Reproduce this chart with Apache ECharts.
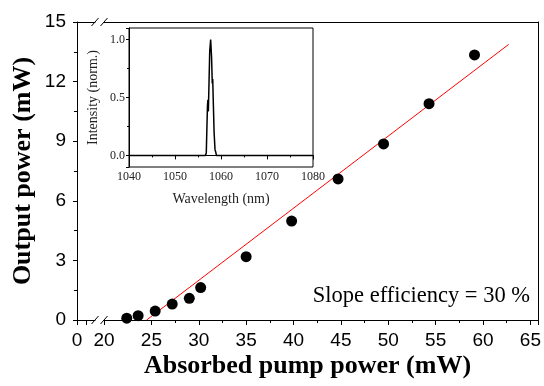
<!DOCTYPE html>
<html><head><meta charset="utf-8">
<script src="https://cdn.jsdelivr.net/npm/echarts@6/dist/echarts.min.js"></script>
<style>html,body{margin:0;padding:0;background:#fff}#c{width:544px;height:386px}</style>
</head><body><div id="c"></div>
<script>
// Main chart data
const pumpPower = [22.4, 23.6, 25.4, 27.2, 29.0, 30.2, 35.0, 39.8, 44.7, 49.5, 54.3, 59.1];
const outputPower = [0.09, 0.22, 0.45, 0.8, 1.09, 1.63, 3.19, 4.98, 7.1, 8.86, 10.89, 13.34];
const fitX = [24.5, 62.7];
const fitY = [0, 13.87];
// Inset spectrum
const wavelength = [1040, 1056.6, 1056.8, 1056.95, 1057.05, 1057.15, 1057.25, 1057.35, 1057.55, 1057.75, 1057.95, 1058.1, 1058.2, 1058.3, 1058.5, 1058.7, 1058.85, 1059, 1080];
const intensity = [0, 0, 0.02, 0.03, 0.42, 0.48, 0.38, 0.55, 0.9, 1.0, 0.85, 0.62, 0.66, 0.5, 0.2, 0.05, 0.03, 0, 0];
// Axis ranges / ticks
const leftSegment = [0, 1.9];      // before the axis break
const rightSegment = [20, 65.8];   // after the axis break
const leftTicks = [0, 1];
const leftLabels = [0];
const slopeText = 'Slope efficiency = 30 %';
const xName = 'Absorbed pump power (mW)';
const yName = 'Output power (mW)';
const insetXName = 'Wavelength (nm)';
const insetYName = 'Intensity (norm.)';

const serif = '"Liberation Serif", "Times New Roman", serif';
const sans = '"Liberation Sans", Arial, sans-serif';
const black = '#000';
const lineOnly = {show: true, onZero: false, lineStyle: {color: black, width: 1}};

const chart = echarts.init(document.getElementById('c'));
const option = {
  animation: false,
  backgroundColor: '#fff',
  grid: [
    {left: 77, top: 22, width: 18, bottom: 66},
    {left: 104, top: 22, right: 4, bottom: 66},
    {left: 129, top: 28, width: 184, height: 139, show: true, borderColor: black, borderWidth: 1, z: 5}
  ],
  xAxis: [
    { // 0: left segment bottom
      type: 'value', gridIndex: 0, min: leftSegment[0], max: leftSegment[1], position: 'bottom',
      axisLine: lineOnly,
      axisTick: {show: true, length: 5, lineStyle: {color: black}, customValues: leftTicks},
      splitLine: {show: false},
      axisLabel: {fontSize: 19, fontFamily: sans, color: black, margin: 11, customValues: leftLabels}
    },
    { // 1: right segment bottom
      type: 'value', gridIndex: 1, min: rightSegment[0], max: rightSegment[1], interval: 5, position: 'bottom',
      axisLine: lineOnly,
      axisTick: {length: 5, lineStyle: {color: black}},
      minorTick: {show: true, splitNumber: 2, length: 3, lineStyle: {color: black}},
      splitLine: {show: false},
      axisLabel: {fontSize: 19, fontFamily: sans, color: black, margin: 11, showMaxLabel: false}
    },
    { // 2: left segment top
      type: 'value', gridIndex: 0, min: leftSegment[0], max: leftSegment[1], position: 'top',
      axisLine: lineOnly, axisTick: {show: false}, axisLabel: {show: false}, splitLine: {show: false}
    },
    { // 3: right segment top
      type: 'value', gridIndex: 1, min: rightSegment[0], max: rightSegment[1], position: 'top',
      axisLine: lineOnly, axisTick: {show: false}, axisLabel: {show: false}, splitLine: {show: false}
    },
    { // 4: inset
      type: 'value', gridIndex: 2, min: 1040, max: 1080, interval: 10,
      axisLine: {lineStyle: {color: black, width: 1}},
      axisTick: {length: 4, lineStyle: {color: black}},
      minorTick: {show: true, splitNumber: 2, length: 2, lineStyle: {color: black}},
      splitLine: {show: false},
      axisLabel: {fontSize: 12, fontFamily: serif, color: '#222', margin: 4, formatter: v => String(v)},
      name: insetXName, nameLocation: 'middle', nameGap: 25,
      nameTextStyle: {fontFamily: serif, fontSize: 14, color: '#222'}
    }
  ],
  yAxis: [
    { // 0: main left
      type: 'value', gridIndex: 0, min: 0, max: 15, interval: 3, position: 'left',
      axisLine: lineOnly,
      axisTick: {show: true, length: 4, lineStyle: {color: black}},
      minorTick: {show: true, splitNumber: 2, length: 3, lineStyle: {color: black}},
      splitLine: {show: false},
      axisLabel: {fontSize: 19, fontFamily: sans, color: black, margin: 11},
      name: yName, nameLocation: 'middle', nameGap: 41,
      nameTextStyle: {fontFamily: serif, fontWeight: 'bold', fontSize: 26, color: black}
    },
    { // 1: right segment (right border line)
      type: 'value', gridIndex: 1, min: 0, max: 15, interval: 3, position: 'right',
      axisLine: lineOnly, axisTick: {show: false}, axisLabel: {show: false}, splitLine: {show: false}
    },
    { // 2: inset
      type: 'value', gridIndex: 2, min: -0.1, max: 1.1, minInterval: 0.5, maxInterval: 0.5,
      axisLine: {show: true, lineStyle: {color: black, width: 1}},
      axisTick: {show: true, length: 3, lineStyle: {color: black}},
      minorTick: {show: true, splitNumber: 2, length: 2, lineStyle: {color: black}},
      splitLine: {show: false},
      axisLabel: {fontSize: 12, fontFamily: serif, color: '#222', margin: 4, showMinLabel: false, showMaxLabel: false,
        formatter: v => v.toFixed(1)},
      name: insetYName, nameLocation: 'middle', nameGap: 29,
      nameTextStyle: {fontFamily: serif, fontSize: 14, color: '#222'}
    }
  ],
  series: [
    {
      type: 'line', xAxisIndex: 1, yAxisIndex: 1, showSymbol: false, symbol: 'none',
      data: fitX.map((x, i) => [x, fitY[i]]),
      lineStyle: {color: '#ff0000', width: 1}, z: 2
    },
    {
      type: 'scatter', xAxisIndex: 1, yAxisIndex: 1, symbolSize: 11,
      data: pumpPower.map((x, i) => [x, outputPower[i]]),
      itemStyle: {color: black, opacity: 1}, z: 3
    },
    {
      type: 'line', xAxisIndex: 4, yAxisIndex: 2, showSymbol: false, symbol: 'none',
      data: wavelength.map((x, i) => [x, intensity[i]]),
      lineStyle: {color: black, width: 1.5}, z: 6
    }
  ]
};
chart.setOption(option);

// Break marks and titles positioned from the axis scales
const bStart = chart.convertToPixel({xAxisIndex: 0}, leftSegment[1]);
const bEnd = chart.convertToPixel({xAxisIndex: 1}, rightSegment[0]);
const yBot = chart.convertToPixel({yAxisIndex: 0}, 0);
const yTop = chart.convertToPixel({yAxisIndex: 0}, 15);
const xMid = (chart.convertToPixel({xAxisIndex: 0}, 0) + chart.convertToPixel({xAxisIndex: 1}, rightSegment[1])) / 2;
const graphics = [
  {type: 'text', right: 14, top: 285, style: {text: slopeText, font: '22.5px ' + serif, fill: black}},
  {type: 'text', x: xMid, y: yBot + 46, style: {text: xName, font: 'bold 26px ' + serif, fill: black, align: 'center', verticalAlign: 'middle'}}
];
[yBot, yTop].forEach(y => {
  [bStart, bEnd].forEach(cx => {
    graphics.push({type: 'line', shape: {x1: cx - 3.5, y1: y + 4, x2: cx + 3.5, y2: y - 4},
      style: {stroke: black, lineWidth: 1}, z: 101});
  });
});
chart.setOption({graphic: graphics});
</script>
</body></html>
